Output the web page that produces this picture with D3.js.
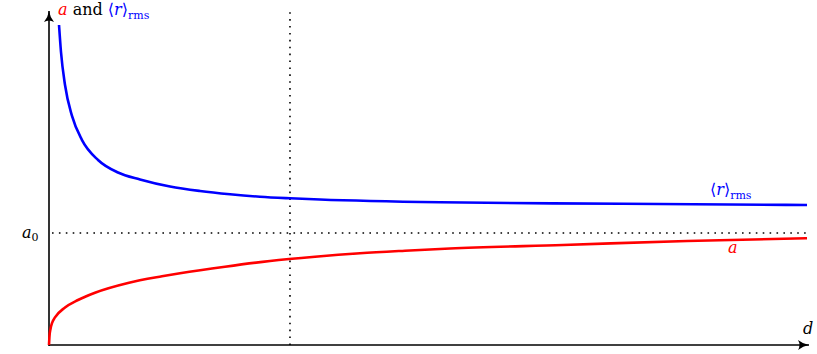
<!DOCTYPE html>
<html><head><meta charset="utf-8">
<script src="https://cdn.jsdelivr.net/npm/d3@7"></script>
<style>
html,body{margin:0;padding:0;background:#fff;}
svg text{font-family:"DejaVu Serif",serif;}
</style>
</head><body>
<svg id="c" width="817" height="354"></svg>
<script>
// data (d in arbitrary units, values in units of a0)
const rmsD   = [0.132,0.158,0.211,0.303,0.435,0.646,0.909,1.199,1.594,1.989,2.385,2.780,3.175,3.570,5.152,7.563,9.987];
const rmsVal = [2.857,2.616,2.321,2.045,1.830,1.652,1.540,1.478,1.415,1.375,1.346,1.324,1.310,1.299,1.274,1.261,1.250];
const aD     = [0,0.0066,0.0198,0.0395,0.079,0.211,0.382,0.606,1.041,1.489,1.726,2.319,2.912,3.505,4.097,4.690,5.283,6.772,8.406,9.987];
const aVal   = [0,0.080,0.143,0.196,0.246,0.335,0.402,0.467,0.554,0.613,0.640,0.699,0.750,0.788,0.819,0.842,0.862,0.893,0.929,0.953];
const a0 = 1;
const dMark = 3.175;

const svg = d3.select("#c");
const x = d3.scaleLinear().domain([0,10]).range([49,808]);
const y = d3.scaleLinear().domain([0,1]).range([345,233]);

const defs = svg.append("defs");
defs.append("marker").attr("id","arr").attr("viewBox","0 0 12 10").attr("refX",11).attr("refY",5)
  .attr("markerWidth",12).attr("markerHeight",10).attr("markerUnits","userSpaceOnUse").attr("orient","auto")
  .append("path").attr("d","M0,0 Q5,4 11,5 Q5,6 0,10 Q3,5 0,0 Z").attr("fill","#000");

// dotted guides
svg.append("line").attr("x1",x(0)+3).attr("x2",x(10)).attr("y1",y(a0)).attr("y2",y(a0))
  .attr("stroke","#000").attr("stroke-width",1.6).attr("stroke-dasharray","1.6 5.3");
svg.append("line").attr("x1",x(dMark)).attr("x2",x(dMark)).attr("y1",y(0)).attr("y2",10)
  .attr("stroke","#000").attr("stroke-width",1.6).attr("stroke-dasharray","1.6 5.3");

// axes
svg.append("line").attr("x1",x(0)).attr("x2",x(10)+1).attr("y1",y(0)).attr("y2",y(0))
  .attr("stroke","#000").attr("stroke-width",1.6).attr("marker-end","url(#arr)");
svg.append("line").attr("x1",x(0)).attr("x2",x(0)).attr("y1",y(0)+1).attr("y2",11)
  .attr("stroke","#000").attr("stroke-width",1.6).attr("marker-end","url(#arr)");

const line = d3.line().x(d=>x(d[0])).y(d=>y(d[1])).curve(d3.curveMonotoneX);
svg.append("path").datum(rmsD.map((d,i)=>[d,rmsVal[i]])).attr("d",line)
  .attr("fill","none").attr("stroke","#0000ff").attr("stroke-width",2.6);
svg.append("path").datum(aD.map((d,i)=>[d,aVal[i]])).attr("d",line)
  .attr("fill","none").attr("stroke","#ff0000").attr("stroke-width",2.6);

// labels
const t = svg.append("text").attr("x",58).attr("y",15).attr("font-size",16);
t.append("tspan").attr("fill","#ff0000").attr("font-style","italic").text("a");
t.append("tspan").attr("fill","#000").text(" and ");
t.append("tspan").attr("fill","#0000ff").text("⟨");
t.append("tspan").attr("fill","#0000ff").attr("font-style","italic").text("r");
t.append("tspan").attr("fill","#0000ff").text("⟩");
t.append("tspan").attr("fill","#0000ff").attr("font-size",11).attr("dy",4).text("rms");

const r = svg.append("text").attr("x",710).attr("y",195).attr("font-size",16).attr("fill","#0000ff");
r.append("tspan").text("⟨");
r.append("tspan").attr("font-style","italic").text("r");
r.append("tspan").text("⟩");
r.append("tspan").attr("font-size",11).attr("dy",4).text("rms");

svg.append("text").attr("x",728).attr("y",253).attr("font-size",16).attr("fill","#ff0000")
  .attr("font-style","italic").text("a");

const a0t = svg.append("text").attr("x",22).attr("y",238).attr("font-size",16).attr("fill","#000");
a0t.append("tspan").attr("font-style","italic").text("a");
a0t.append("tspan").attr("font-size",11).attr("dy",3).text("0");

svg.append("text").attr("x",803).attr("y",334).attr("font-size",16).attr("font-style","italic").text("d");
</script>
</body></html>
